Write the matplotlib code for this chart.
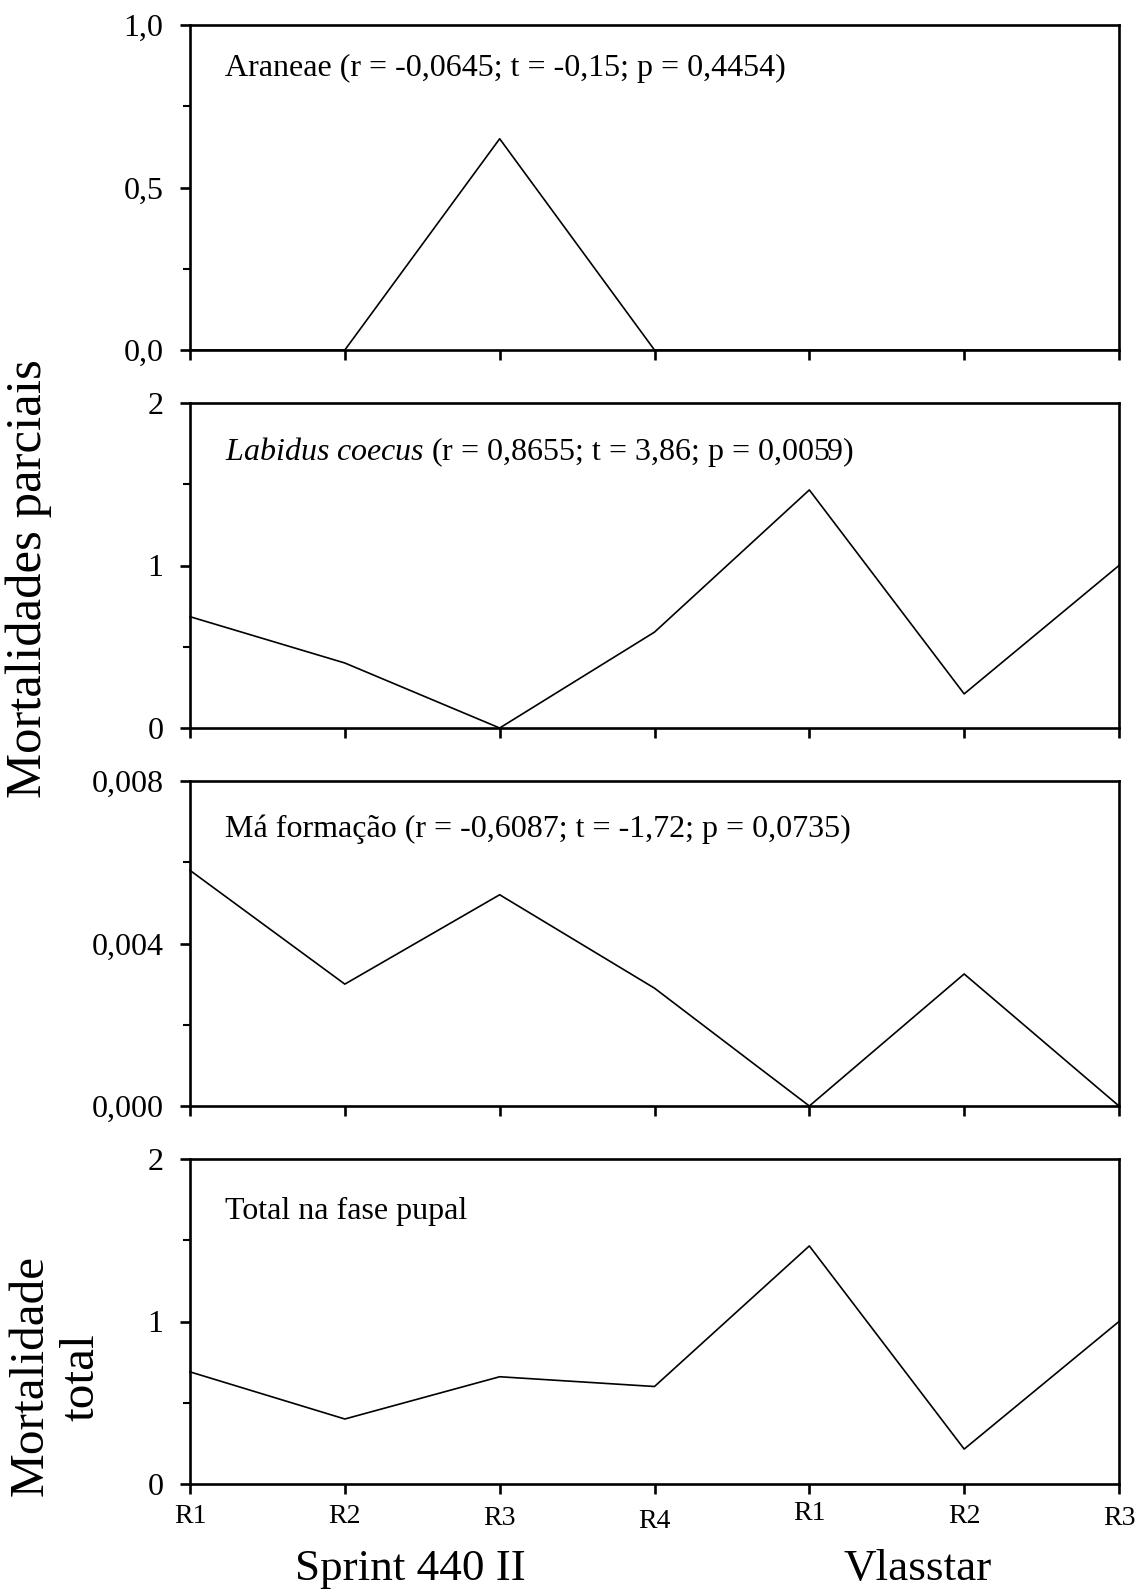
import numpy as np
import matplotlib.pyplot as plt
from matplotlib.ticker import MultipleLocator, FuncFormatter

plt.rcParams['font.family'] = ['Liberation Serif', 'DejaVu Serif']
plt.rcParams['mathtext.fontset'] = 'custom'
plt.rcParams['mathtext.it'] = 'Liberation Serif:italic'
plt.rcParams['mathtext.rm'] = 'Liberation Serif'

# x positions: Sprint 440 II R1-R4, then Vlasstar R1-R3
x_labels = ['R1', 'R2', 'R3', 'R4', 'R1', 'R2', 'R3']

araneae = [0.0, 0.0, 0.65, 0.0, 0.0, 0.0, 0.0]
labidus = [0.685, 0.40, 0.0, 0.59, 1.465, 0.21, 1.0]
ma_formacao = [0.0058, 0.0030, 0.0052, 0.0029, 0.0, 0.00325, 0.0]
total = [0.69, 0.40, 0.66, 0.60, 1.465, 0.215, 1.0]

titles = [
    'Araneae (r = -0,0645; t = -0,15; p = 0,4454)',
    r'$\mathit{Labidus\ coecus}$ (r = 0,8655; t = 3,86; p = 0,0059)',
    'Má formação (r = -0,6087; t = -1,72; p = 0,0735)',
    'Total na fase pupal',
]
series = [araneae, labidus, ma_formacao, total]
ymax = [1.0, 2.0, 0.008, 2.0]
ymajor = [0.5, 1.0, 0.004, 1.0]
fmts = [lambda v, p: f'{v:.1f}'.replace('.', ','),
        lambda v, p: f'{v:.0f}',
        lambda v, p: f'{v:.3f}'.replace('.', ','),
        lambda v, p: f'{v:.0f}']
title_y = [0.865, 0.85, 0.85, 0.84]

W, H = 1147, 1589
fig = plt.figure(figsize=(W / 100, H / 100), dpi=100)

left, right = 190 / W, 1119 / W
tops = [25, 403, 781, 1159]
ph = 325

x = np.arange(len(x_labels))
axes = []
for i in range(4):
    ax = fig.add_axes([left, 1 - (tops[i] + ph) / H, right - left, ph / H])
    ax.plot(x, series[i], color='black', lw=1.2, clip_on=False)
    ax.set_xlim(0, len(x) - 1)
    ax.set_ylim(0, ymax[i])
    ax.yaxis.set_major_locator(MultipleLocator(ymajor[i]))
    ax.yaxis.set_minor_locator(MultipleLocator(ymajor[i] / 2))
    ax.yaxis.set_major_formatter(FuncFormatter(fmts[i]))
    ax.set_xticks(x)
    for s in ax.spines.values():
        s.set_linewidth(1.9)
    ax.tick_params(axis='y', which='major', direction='out', length=7.2, width=1.9,
                   labelsize=23, pad=12)
    ax.tick_params(axis='y', which='minor', direction='out', length=4.8, width=1.5)
    ax.tick_params(axis='x', which='major', direction='out', length=7.2, width=1.9,
                   labelsize=20, pad=7.5)
    if i < 3:
        ax.set_xticklabels([])
    else:
        ax.set_xticklabels(x_labels)
        ticks = ax.xaxis.get_major_ticks()
        ticks[2].set_pad(8.5)
        ticks[3].set_pad(10.5)
        ticks[4].set_pad(5)
        ticks[6].set_pad(8.5)
    ax.text(0.038, title_y[i], titles[i], transform=ax.transAxes, fontsize=23,
            ha='left', va='center')
    axes.append(ax)

fig.text(29 / W, 1 - 579 / H, 'Mortalidades parciais', rotation=90,
         fontsize=36.5, ha='center', va='center')
fig.text(31 / W, 1 - 1375 / H, 'Mortalidade', rotation=90,
         fontsize=35.5, ha='center', va='center')
fig.text(82 / W, 1 - 1377 / H, 'total', rotation=90,
         fontsize=35.5, ha='center', va='center')
fig.text(410 / W, 9 / H, 'Sprint 440 II', fontsize=32.5, ha='center', va='baseline')
fig.text(918 / W, 9 / H, 'Vlasstar', fontsize=32.5, ha='center', va='baseline')

fig.savefig('out.png', dpi=100)
